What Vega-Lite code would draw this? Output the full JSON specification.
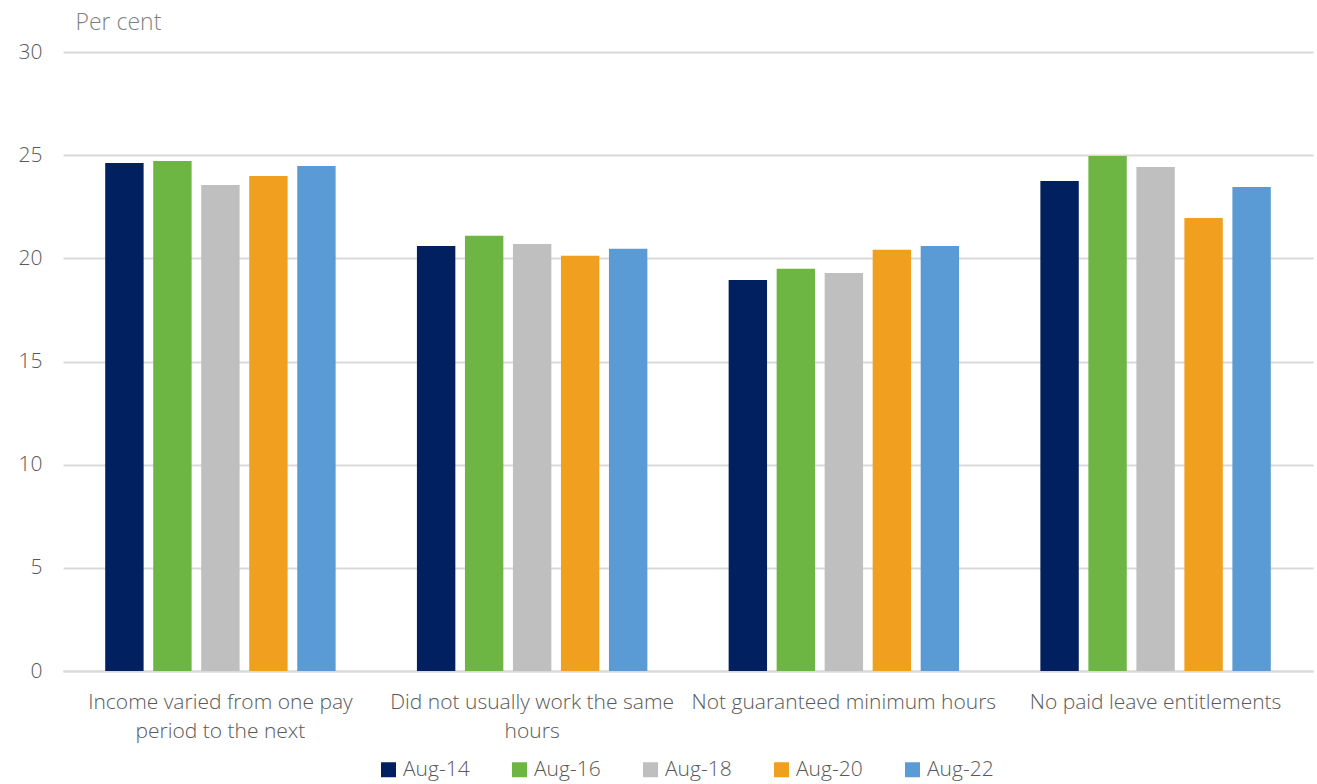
{
  "$schema": "https://vega.github.io/schema/vega-lite/v6.json",
  "width": 1250,
  "height": 619,
  "autosize": {"type": "none"},
  "padding": {"left": 63, "top": 52, "right": 4, "bottom": 113},
  "background": "white",
  "config": {
    "view": {"stroke": null},
    "font": "Open Sans"
  },
  "data": {
    "values": [
      {"cat": "Income varied from one pay|period to the next", "period": "Aug-14", "value": 24.62},
      {"cat": "Income varied from one pay|period to the next", "period": "Aug-16", "value": 24.72},
      {"cat": "Income varied from one pay|period to the next", "period": "Aug-18", "value": 23.56},
      {"cat": "Income varied from one pay|period to the next", "period": "Aug-20", "value": 23.99},
      {"cat": "Income varied from one pay|period to the next", "period": "Aug-22", "value": 24.48},
      {"cat": "Did not usually work the same|hours", "period": "Aug-14", "value": 20.6},
      {"cat": "Did not usually work the same|hours", "period": "Aug-16", "value": 21.09},
      {"cat": "Did not usually work the same|hours", "period": "Aug-18", "value": 20.7},
      {"cat": "Did not usually work the same|hours", "period": "Aug-20", "value": 20.12},
      {"cat": "Did not usually work the same|hours", "period": "Aug-22", "value": 20.46},
      {"cat": "Not guaranteed minimum hours", "period": "Aug-14", "value": 18.95},
      {"cat": "Not guaranteed minimum hours", "period": "Aug-16", "value": 19.49},
      {"cat": "Not guaranteed minimum hours", "period": "Aug-18", "value": 19.29},
      {"cat": "Not guaranteed minimum hours", "period": "Aug-20", "value": 20.41},
      {"cat": "Not guaranteed minimum hours", "period": "Aug-22", "value": 20.6},
      {"cat": "No paid leave entitlements", "period": "Aug-14", "value": 23.75},
      {"cat": "No paid leave entitlements", "period": "Aug-16", "value": 24.96},
      {"cat": "No paid leave entitlements", "period": "Aug-18", "value": 24.43},
      {"cat": "No paid leave entitlements", "period": "Aug-20", "value": 21.96},
      {"cat": "No paid leave entitlements", "period": "Aug-22", "value": 23.46}
    ]
  },
  "mark": {"type": "bar"},
  "encoding": {
    "x": {
      "field": "cat",
      "type": "nominal",
      "sort": null,
      "scale": {"paddingInner": 0.23, "paddingOuter": 0.12},
      "axis": {
        "title": null,
        "labelAngle": 0,
        "labelExpr": "split(datum.label, '|')",
        "labelFont": "Open Sans",
        "labelFontSize": 21,
        "labelFontWeight": 300,
        "labelColor": "#595959",
        "labelPadding": 20,
        "labelLineHeight": 29,
        "labelLimit": 340,
        "ticks": false,
        "domainColor": "#d9d9d9",
        "domainWidth": 2
      }
    },
    "xOffset": {
      "field": "period",
      "type": "nominal",
      "sort": null,
      "scale": {"paddingInner": 0.2, "paddingOuter": 0.1}
    },
    "y": {
      "field": "value",
      "type": "quantitative",
      "scale": {"domain": [0, 30], "nice": false},
      "axis": {
        "values": [0, 5, 10, 15, 20, 25, 30],
        "title": "Per cent",
        "titleAngle": 0,
        "titleX": 12,
        "titleY": -30,
        "titleAlign": "left",
        "titleBaseline": "middle",
        "titleFont": "Open Sans",
        "titleFontSize": 23,
        "titleFontWeight": 300,
        "titleColor": "#7f7f7f",
        "labelFont": "Open Sans",
        "labelFontSize": 21,
        "labelFontWeight": 300,
        "labelColor": "#595959",
        "labelPadding": 21,
        "ticks": false,
        "domain": false,
        "gridColor": "#d9d9d9",
        "gridWidth": 2
      }
    },
    "color": {
      "field": "period",
      "type": "nominal",
      "sort": null,
      "scale": {
        "domain": ["Aug-14", "Aug-16", "Aug-18", "Aug-20", "Aug-22"],
        "range": ["#002060", "#6db644", "#bfbfbf", "#f0a01e", "#5b9bd5"]
      },
      "legend": {
        "orient": "none",
        "legendX": 315,
        "legendY": 707,
        "direction": "horizontal",
        "title": null,
        "symbolType": "square",
        "symbolSize": 225,
        "symbolStrokeWidth": 0,
        "labelFont": "Open Sans",
        "labelFontSize": 21,
        "labelFontWeight": 300,
        "labelOffset": 4,
        "labelColor": "#595959",
        "columnPadding": 39
      }
    }
  }
}
